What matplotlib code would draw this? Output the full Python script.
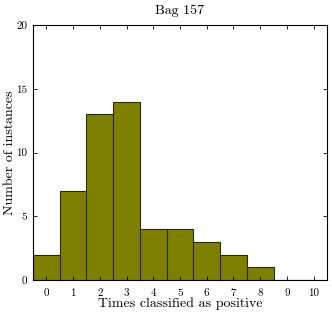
import matplotlib
matplotlib.use("Agg")
import matplotlib.pyplot as plt

plt.rcParams['font.family'] = ['cmr10', 'DejaVu Serif']
plt.rcParams['axes.formatter.use_mathtext'] = True
plt.rcParams['mathtext.fontset'] = 'cm'

times = [0, 1, 2, 3, 4, 5, 6, 7, 8, 9, 10]
counts = [2, 7, 13, 14, 4, 4, 3, 2, 1, 0, 0]
yticks = [0, 5, 10, 15, 20]

fig = plt.figure(figsize=(3.32, 3.13), dpi=100)
ax = fig.add_axes([33/332, 33/313, 294/332, 255/313])
ax.bar(times, counts, width=1.0, color='#808000', edgecolor='#2a2a00', linewidth=0.8)
ax.set_xlim(-0.5, 10.5)
ax.set_ylim(0, 20)
ax.set_xticks(times)
ax.set_xticklabels([str(t) for t in times], fontsize=8)
ax.set_yticks(yticks)
ax.set_yticklabels([str(t) for t in yticks], fontsize=8)
ax.tick_params(direction='in', top=True, right=True, length=3, width=0.6, pad=4)
ax.tick_params(axis='x', pad=6)
for s in ax.spines.values():
    s.set_linewidth(0.8)
ax.set_title('Bag 157', fontsize=10, pad=8)
ax.set_xlabel('Times classified as positive', fontsize=10, labelpad=0)
ax.set_ylabel('Number of instances', fontsize=10)
ax.yaxis.set_label_coords(-17/294, 0.5)
fig.savefig('out.png', dpi=100)
